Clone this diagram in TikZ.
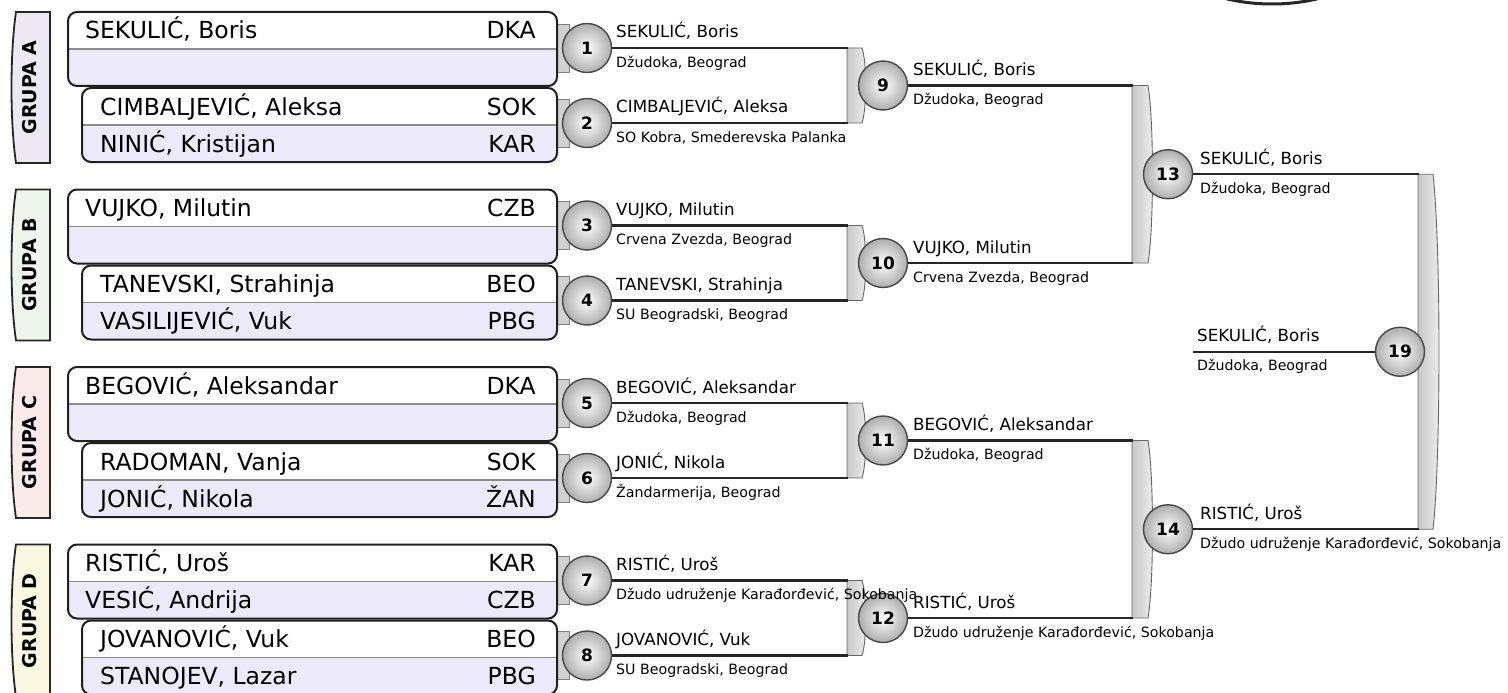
\documentclass[tikz,border=0pt]{standalone}
\usepackage{fontspec}
\setmainfont{DejaVu Sans}
\definecolor{lav}{HTML}{ECE9F8}
\definecolor{tabA}{HTML}{ECE8F4}
\definecolor{tabB}{HTML}{EEF5EA}
\definecolor{tabC}{HTML}{FBEAEA}
\definecolor{tabD}{HTML}{FBF8E2}
\newcommand\pbox[2]{%
  \begin{scope}
    \clip[rounded corners=9pt] (#1,#2) rectangle (557,#2+74);
    \fill[white] (#1,#2) rectangle (557,#2+37);
    \fill[lav] (#1,#2+37) rectangle (557,#2+74);
  \end{scope}
  \draw[divider] (#1,#2+37) -- (557,#2+37);
  \draw[boxline] (#1,#2) rectangle (557,#2+74);
}
\newcommand\gtab[5]{%
  \filldraw[tabline, fill=#4] (16,#2) -- (50,#2) -- (50,#3) -- (16,#3)
    .. controls (10,#3-40) and (10,#2+40) .. (16,#2) -- cycle;
  \node[tablabel] (#1) at (30,{(#2+#3)/2}) {GRUPA #5};
}
\newcommand\brk[5]{%
  \path[bracketshape] (#1,#2) -- (#1+#4,#2)
    .. controls (#1+#4+#5,{#2+0.2*(#3-#2)}) and (#1+#4+#5,{#3-0.2*(#3-#2)}) .. (#1+#4,#3)
    -- (#1,#3) -- cycle;
}
\newcommand\conn[1]{\draw[connbox] (557,#1-24) rectangle (569,#1+24);}
\begin{document}
\begin{tikzpicture}[x=1pt,y=-1pt,
  pname/.style={font=\fontsize{23.5}{26}\selectfont, anchor=base west, inner sep=0pt},
  pcode/.style={font=\fontsize{23.5}{26}\selectfont, anchor=base east, inner sep=0pt},
  wname/.style={font=\fontsize{16.7}{19}\selectfont, anchor=base west, inner sep=0pt},
  wclub/.style={font=\fontsize{14.2}{16}\selectfont, anchor=base west, inner sep=0pt},
  mc/.style={circle, minimum size=49pt, inner sep=0pt, draw=black!72, line width=1.4pt,
    inner color=white, outer color=black!32, font=\bfseries\fontsize{17}{19}\selectfont},
  wline/.style={line width=2.2pt, draw=black!85},
  boxline/.style={line width=2pt, draw=black!88, rounded corners=9pt},
  divider/.style={line width=1.1pt, draw=black!45},
  tabline/.style={line width=1.8pt, draw=black!85},
  tablabel/.style={rotate=90, font=\bfseries\fontsize{19}{21}\selectfont, inner sep=0pt},
  bracketshape/.style={draw=black!60, line width=0.9pt, left color=black!22, right color=black!6},
  connbox/.style={draw=black!50, line width=0.8pt, fill=black!18},
]
\useasboundingbox (0,0) rectangle (1508,693);
\clip (0,0) rectangle (1508,693);

% partial logo at the top
\draw[line width=3pt, draw=black!85, fill=white] (1272,-44) ellipse [x radius=100, y radius=48];

% group tabs
\gtab{tA}{12}{163}{tabA}{A}
\gtab{tB}{189.5}{340.5}{tabB}{B}
\gtab{tC}{367}{518}{tabC}{C}
\gtab{tD}{544.5}{697}{tabD}{D}

% connectors between boxes and first-round circles
\conn{48}\conn{123}\conn{225.5}\conn{300.5}\conn{403}\conn{478}\conn{580.5}\conn{655.5}

% player boxes
\pbox{68}{12}\pbox{82}{88}
\pbox{68}{189.5}\pbox{82}{265.5}
\pbox{68}{367}\pbox{82}{443}
\pbox{68}{544.5}\pbox{82}{620.5}

% players
\node[pname] (pA1) at (85,39) {SEKULIĆ, Boris};
\node[pcode] (cA1) at (536,39) {DKA};
\node[pname] (pA3) at (100,115) {CIMBALJEVIĆ, Aleksa};
\node[pcode] (cA3) at (536,115) {SOK};
\node[pname] (pA4) at (100,152) {NINIĆ, Kristijan};
\node[pcode] (cA4) at (536,152) {KAR};

\node[pname] (pB1) at (85,216.5) {VUJKO, Milutin};
\node[pcode] (cB1) at (536,216.5) {CZB};
\node[pname] (pB3) at (100,292.5) {TANEVSKI, Strahinja};
\node[pcode] (cB3) at (536,292.5) {BEO};
\node[pname] (pB4) at (100,329.5) {VASILIJEVIĆ, Vuk};
\node[pcode] (cB4) at (536,329.5) {PBG};

\node[pname] (pC1) at (85,394) {BEGOVIĆ, Aleksandar};
\node[pcode] (cC1) at (536,394) {DKA};
\node[pname] (pC3) at (100,470) {RADOMAN, Vanja};
\node[pcode] (cC3) at (536,470) {SOK};
\node[pname] (pC4) at (100,507) {JONIĆ, Nikola};
\node[pcode] (cC4) at (536,507) {ŽAN};

\node[pname] (pD1) at (85,571.5) {RISTIĆ, Uroš};
\node[pcode] (cD1) at (536,571.5) {KAR};
\node[pname] (pD2) at (85,608.5) {VESIĆ, Andrija};
\node[pcode] (cD2) at (536,608.5) {CZB};
\node[pname] (pD3) at (100,647.5) {JOVANOVIĆ, Vuk};
\node[pcode] (cD3) at (536,647.5) {BEO};
\node[pname] (pD4) at (100,684.5) {STANOJEV, Lazar};
\node[pcode] (cD4) at (536,684.5) {PBG};

% brackets
\brk{847}{48}{123}{15}{5}
\brk{847}{225.5}{300.5}{15}{5}
\brk{847}{403}{478}{15}{5}
\brk{847}{580.5}{655.5}{15}{5}
\brk{1132}{85.5}{263}{16}{6}
\brk{1132}{440.5}{618}{16}{6}
\brk{1418}{174.25}{529.25}{15}{8}

% junction coordinates
\coordinate (j1) at (848,48);
\coordinate (j2) at (848,123);
\coordinate (j3) at (848,225.5);
\coordinate (j4) at (848,300.5);
\coordinate (j5) at (848,403);
\coordinate (j6) at (848,478);
\coordinate (j7) at (848,580.5);
\coordinate (j8) at (848,655.5);
\coordinate (j9) at (1133,85.5);
\coordinate (j10) at (1133,263);
\coordinate (j11) at (1133,440.5);
\coordinate (j12) at (1133,618);
\coordinate (j13) at (1419,174.25);
\coordinate (j14) at (1419,529.25);
\coordinate (f0) at (1193,351.75);

% match circles
\node[mc] (m1) at (587,48) {1};
\node[mc] (m2) at (587,123) {2};
\node[mc] (m3) at (587,225.5) {3};
\node[mc] (m4) at (587,300.5) {4};
\node[mc] (m5) at (587,403) {5};
\node[mc] (m6) at (587,478) {6};
\node[mc] (m7) at (587,580.5) {7};
\node[mc] (m8) at (587,655.5) {8};
\node[mc] (m9) at (883,85.5) {9};
\node[mc] (m10) at (883,263) {10};
\node[mc] (m11) at (883,440.5) {11};
\node[mc] (m12) at (883,618) {12};
\node[mc] (m13) at (1168,174.25) {13};
\node[mc] (m14) at (1168,529.25) {14};

% winner lines
\foreach \i in {1,...,14} {\draw[wline] (m\i) -- (j\i);}
\draw[wline] (f0) -- (1378,351.75);
\node[mc] (m19) at (1400,351.75) {19};

% labels
\node[wname] (n1) at (616,38) {SEKULIĆ, Boris};
\node[wclub] (k1) at (616,67) {Džudoka, Beograd};
\node[wname] (n2) at (616,113) {CIMBALJEVIĆ, Aleksa};
\node[wclub] (k2) at (616,142) {SO Kobra, Smederevska Palanka};
\node[wname] (n3) at (616,215.5) {VUJKO, Milutin};
\node[wclub] (k3) at (616,244.5) {Crvena Zvezda, Beograd};
\node[wname] (n4) at (616,290.5) {TANEVSKI, Strahinja};
\node[wclub] (k4) at (616,319.5) {SU Beogradski, Beograd};
\node[wname] (n5) at (616,393) {BEGOVIĆ, Aleksandar};
\node[wclub] (k5) at (616,422) {Džudoka, Beograd};
\node[wname] (n6) at (616,468) {JONIĆ, Nikola};
\node[wclub] (k6) at (616,497) {Žandarmerija, Beograd};
\node[wname] (n7) at (616,570.5) {RISTIĆ, Uroš};
\node[wclub] (k7) at (616,599.5) {Džudo udruženje Karađorđević, Sokobanja};
\node[wname] (n8) at (616,645.5) {JOVANOVIĆ, Vuk};
\node[wclub] (k8) at (616,674.5) {SU Beogradski, Beograd};

\node[wname] (n9) at (913,75.5) {SEKULIĆ, Boris};
\node[wclub] (k9) at (913,104.5) {Džudoka, Beograd};
\node[wname] (n10) at (913,253) {VUJKO, Milutin};
\node[wclub] (k10) at (913,282) {Crvena Zvezda, Beograd};
\node[wname] (n11) at (913,430.5) {BEGOVIĆ, Aleksandar};
\node[wclub] (k11) at (913,459.5) {Džudoka, Beograd};
\node[wname] (n12) at (913,608) {RISTIĆ, Uroš};
\node[wclub] (k12) at (913,637) {Džudo udruženje Karađorđević, Sokobanja};

\node[wname] (n13) at (1200,164.25) {SEKULIĆ, Boris};
\node[wclub] (k13) at (1200,193.25) {Džudoka, Beograd};
\node[wname] (n14) at (1200,519.25) {RISTIĆ, Uroš};
\node[wclub] (k14) at (1200,548.25) {Džudo udruženje Karađorđević, Sokobanja};

\node[wname] (n19) at (1197,341.75) {SEKULIĆ, Boris};
\node[wclub] (k19) at (1197,370.75) {Džudoka, Beograd};
\end{tikzpicture}
\end{document}
